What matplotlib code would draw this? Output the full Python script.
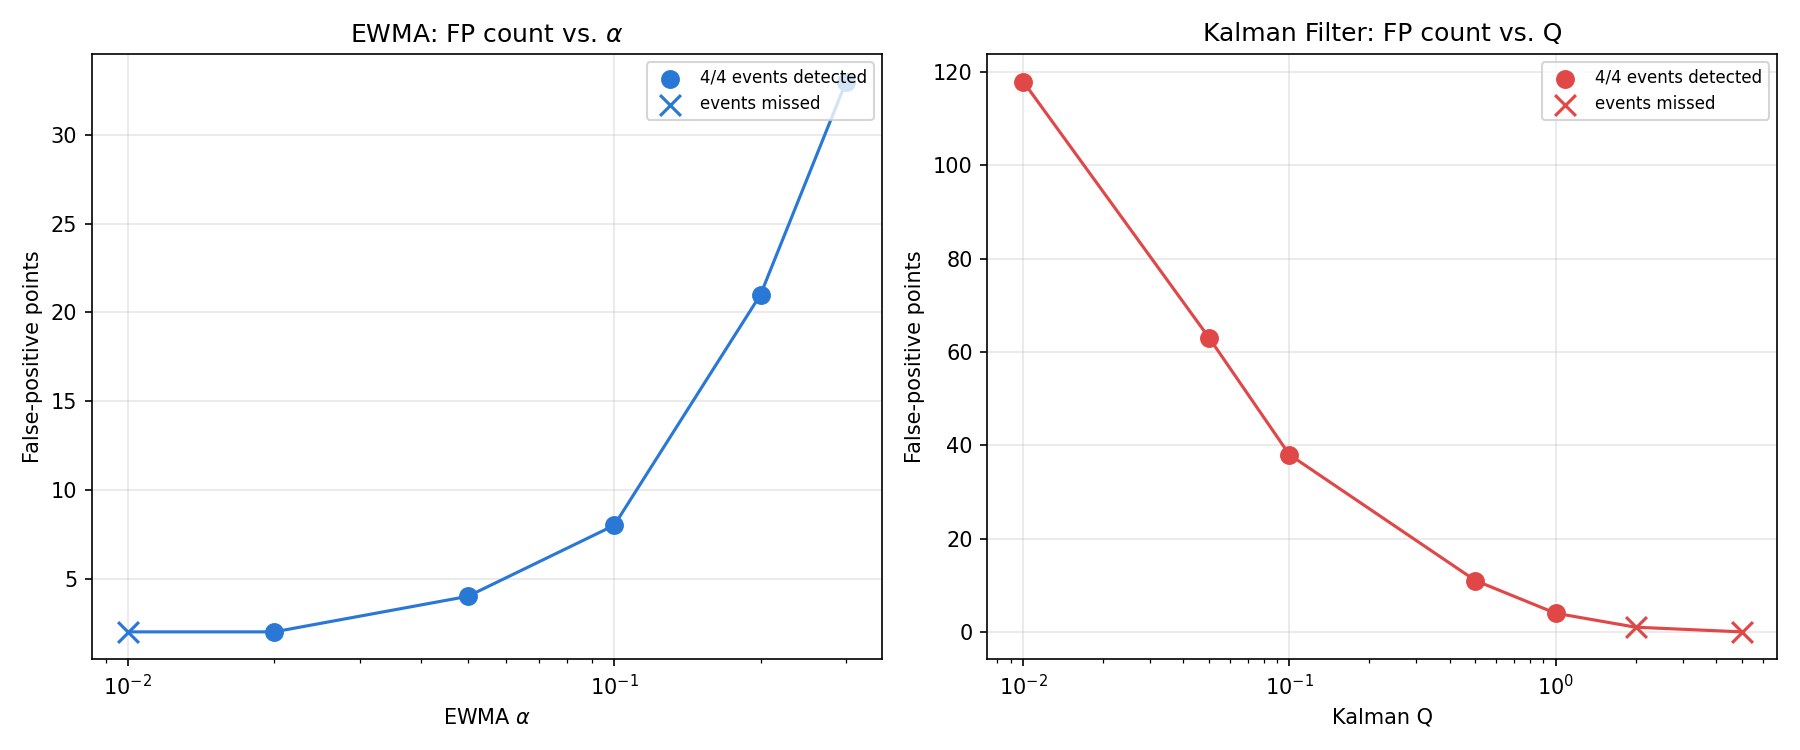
import numpy as np
import matplotlib.pyplot as plt

# EWMA sweep
ewma_alpha = [0.01, 0.02, 0.05, 0.1, 0.2, 0.3]
ewma_fp = [2, 2, 4, 8, 21, 33]
ewma_detected = [False, True, True, True, True, True]

# Kalman sweep
kalman_q = [0.01, 0.05, 0.1, 0.5, 1.0, 2.0, 5.0]
kalman_fp = [118, 63, 38, 11, 4, 1, 0]
kalman_detected = [True, True, True, True, True, False, False]


def plot_sweep(ax, x, y, detected, color, title, xlabel):
    x = np.array(x)
    y = np.array(y)
    det = np.array(detected)
    ax.plot(x, y, '-', color=color, lw=1.5, zorder=2)
    ax.scatter(x[det], y[det], s=65, color=color, marker='o', zorder=3,
               label='4/4 events detected')
    ax.scatter(x[~det], y[~det], s=100, color=color, marker='x', lw=1.5,
               zorder=3, label='events missed')
    ax.set_xscale('log')
    ax.set_title(title, fontsize=12)
    ax.set_xlabel(xlabel)
    ax.set_ylabel('False-positive points')
    ax.grid(True, alpha=0.3)
    ax.legend(fontsize=8, loc='upper right')


fig, axes = plt.subplots(1, 2, figsize=(12, 5), dpi=150)
plot_sweep(axes[0], ewma_alpha, ewma_fp, ewma_detected, '#2a78d6',
           r'EWMA: FP count vs. $\alpha$', r'EWMA $\alpha$')
plot_sweep(axes[1], kalman_q, kalman_fp, kalman_detected, '#e04848',
           'Kalman Filter: FP count vs. Q', 'Kalman Q')
fig.tight_layout()
fig.savefig('out.png')
